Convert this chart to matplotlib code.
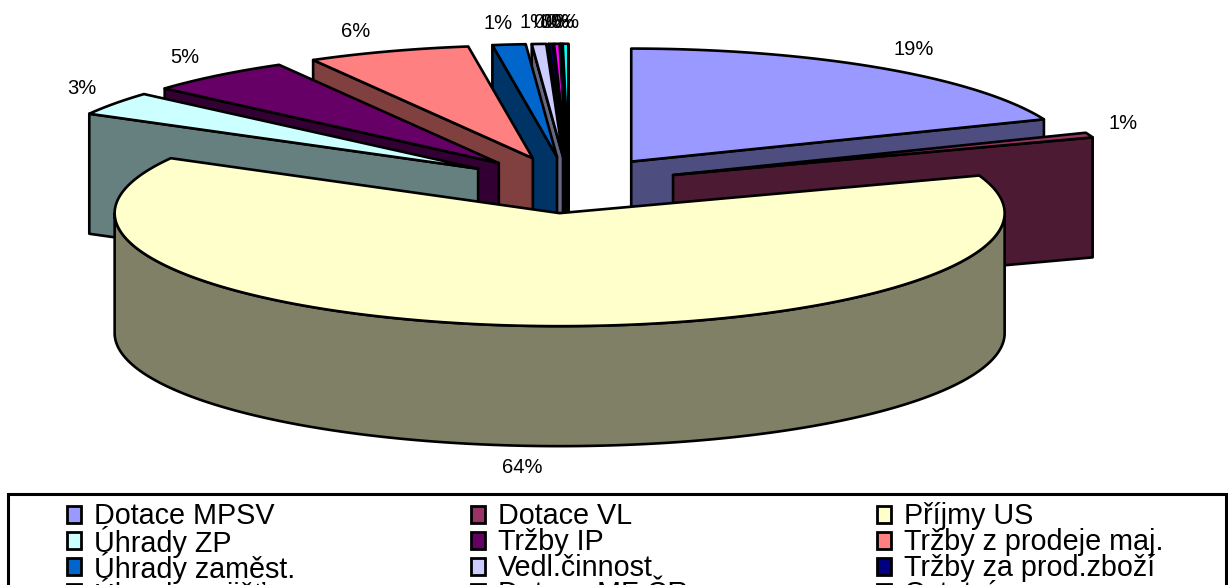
import matplotlib

matplotlib.use('Agg')
import numpy as np
import matplotlib.pyplot as plt
from matplotlib.patches import Polygon, Rectangle

plt.rcParams['font.family'] = ['Liberation Sans', 'DejaVu Sans']

names = ['Dotace MPSV', 'Dotace VL', 'Příjmy US', 'Úhrady ZP', 'Tržby IP',
         'Tržby z prodeje maj.', 'Úhrady zaměst.', 'Vedl.činnost',
         'Tržby za prod.zboží', 'Úhrady pojišť.', 'Dotace MF ČR', 'Ostatní']
values = [18.9, 0.7, 63.5, 3.4, 5.3, 5.9, 1.2, 0.52, 0.15, 0.2, 0.05, 0.2]
colors = ['#9999FF', '#993366', '#FFFFCC', '#CCFFFF', '#660066', '#FF8080',
          '#0066CC', '#CCCCFF', '#000080', '#FF00FF', '#FFFF00', '#00FFFF']

# pie geometry, in pixels
cx, cy = 569, 185
rx, ry = 445, 113
depth = 120
explode = 0.25
lw = 1.9


def rim(ox, oy, a):
    return ox + rx * np.sin(a), oy - ry * np.cos(a)


def side(ax, pts, color, z):
    # extrude a top edge straight down
    x = [p[0] for p in pts]
    y = [p[1] for p in pts]
    xy = list(zip(x, y)) + list(zip(x[::-1], [v + depth for v in y[::-1]]))
    ax.add_patch(Polygon(xy, closed=True, fc=color, ec='black', lw=lw, zorder=z, joinstyle='round'))


fig = plt.figure(figsize=(12.28, 5.85), dpi=100)
ax = fig.add_axes([0, 0, 1, 1])
ax.set_xlim(0, 1228)
ax.set_ylim(585, 0)
ax.axis('off')

edges = np.cumsum([0] + values) / sum(values) * 2 * np.pi

slices = []
for i in range(len(values)):
    a0, a1 = edges[i], edges[i + 1]
    mid = (a0 + a1) / 2
    ox = cx + explode * rx * np.sin(mid)
    oy = cy - explode * ry * np.cos(mid)
    slices.append((oy, i, a0, a1, mid, ox))

z = 2
# back slices first
for oy, i, a0, a1, mid, ox in sorted(slices):
    c = np.array(matplotlib.colors.to_rgb(colors[i]))
    dark = c * 0.5
    if np.sin(a0) < 0:
        side(ax, [(ox, oy), rim(ox, oy, a0)], dark, z)
    if np.sin(a1) > 0:
        side(ax, [(ox, oy), rim(ox, oy, a1)], dark, z)
    lo, hi = max(a0, np.pi / 2), min(a1, 3 * np.pi / 2)
    if hi > lo:
        t = np.linspace(lo, hi, 200)
        side(ax, [rim(ox, oy, v) for v in t], dark, z + 1)
    t = np.linspace(a0, a1, 200)
    top = [(ox, oy)] + [rim(ox, oy, v) for v in t]
    ax.add_patch(Polygon(top, closed=True, fc=c, ec='black', lw=lw, zorder=z + 2, joinstyle='round'))
    z += 3

    lx, ly = rim(ox, oy, mid)
    if np.cos(mid) > 0:
        lx += (34 if np.sin(mid) > 0 else 33) * np.clip(np.sin(mid) * 3, -1, 1)
        ly -= 7 + 14 * np.cos(mid)
    else:
        ly += depth + 22
    ax.text(lx, ly, '%d%%' % round(values[i]), ha='center', va='center',
            fontsize=14.5, color='black', zorder=100)

# legend box, the last row runs off the picture
ax.add_patch(Rectangle((8, 494), 1218, 200, fc='white', ec='black', lw=2.2, zorder=101))
col_x = [67, 471, 877]
row_y = [514, 540, 566, 592]
for i in range(len(names)):
    x = col_x[i % 3]
    y = row_y[i // 3]
    ax.add_patch(Rectangle((x, y - 8), 14, 17, fc=colors[i], ec='black', lw=2, zorder=102))
    ax.text(x + 27, y + 2, names[i], ha='left', va='center', fontsize=20.7, color='black', zorder=103)

plt.savefig('out.png', dpi=100)
